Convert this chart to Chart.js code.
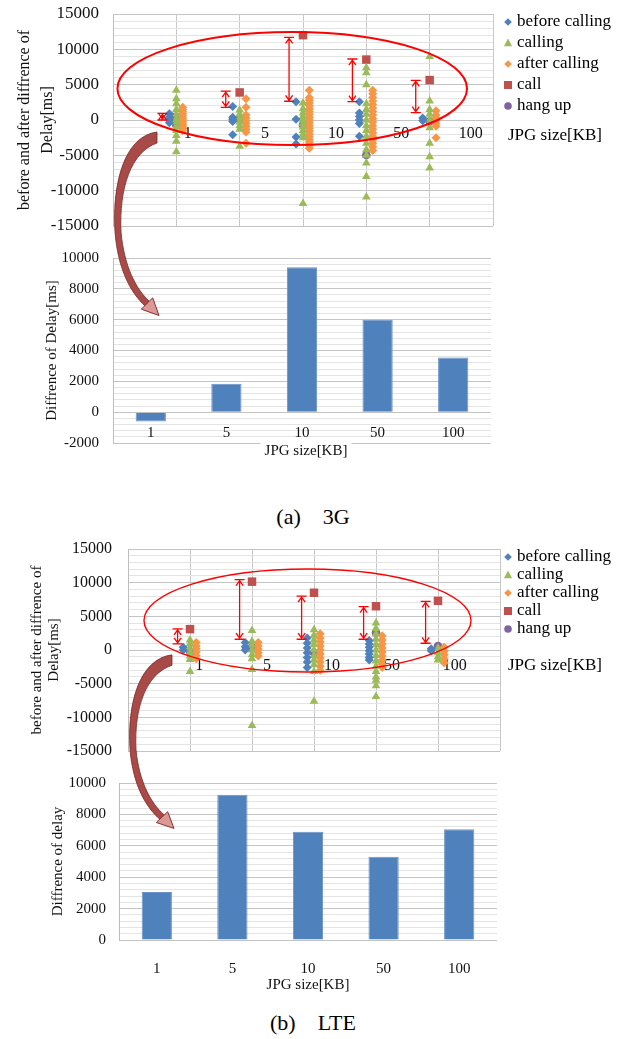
<!DOCTYPE html>
<html>
<head>
<meta charset="utf-8">
<script src="https://cdn.jsdelivr.net/npm/chart.js@4.4.0/dist/chart.umd.min.js"></script>
<style>
  html, body { margin: 0; padding: 0; background: #fff; }
  #page { position: relative; width: 626px; height: 1039px; overflow: hidden; font-family: "Liberation Serif", "Times New Roman", serif; }
  .box { position: absolute; left: 0; width: 626px; }
  .caption { position: absolute; left: 0; width: 626px; text-align: center; font-size: 22px; line-height: 24px; color: #000; white-space: pre; }
  svg { position: absolute; left: 0; top: 0; pointer-events: none; }
</style>
</head>
<body>
<div id="page">
  <div class="box" style="top:0;height:240px"><canvas id="scatter3g"></canvas></div>
  <div class="box" style="top:240px;height:225px"><canvas id="bar3g"></canvas></div>
  <div class="caption" style="top:505px">(a)    3G</div>
  <div class="box" style="top:530px;height:240px"><canvas id="scatterLte"></canvas></div>
  <div class="box" style="top:770px;height:230px"><canvas id="barLte"></canvas></div>
  <div class="caption" style="top:1011px">(b)    LTE</div>
  <svg width="626" height="1039" viewBox="0 0 626 1039">
    <defs>
      <g id="curl">
        <path d="M157,132 C125,136 112,182 115,232 C118,270 131,293 145,306 L149,301 C136,289 124,266 121,232 C119,188 131,152 157,143 Z"
              fill="#a84a47" stroke="#7a2826" stroke-width="0.8"/>
        <path d="M152.7,297.8 L159,315.5 L141.3,309.2 Z" fill="#dc9896" stroke="#8a2f2d" stroke-width="1"/>
      </g>
    </defs>
    <use href="#curl"/>
    <use href="#curl" transform="translate(15,530) scale(1,0.946)"/>
  </svg>
</div>
<script>
const sizeLabels = ['1', '5', '10', '50', '100'];
const seriesNames = ['before calling', 'calling', 'after calling', 'call', 'hang up'];

// 3G delays [ms], one inner list per JPG size
const before3G = [
  [900, 400, 0, -400],
  [1900, 400, 100, -200, -2100],
  [2600, 100, -2400, -3400],
  [2600, 1000, 500, 0, -500, -2300],
  [300, -100]
];
const calling3G = [
  [4200, 3000, 2300, 1500, 800, 200, -300, -900, -1500, -2200, -3000, -4500],
  [1400, 800, 300, -300, -800, -1300, -3700],
  [2400, 1600, 1000, 500, 0, -500, -1000, -1500, -2000, -2500, -11800],
  [7400, 6700, 5000, 2300, 1500, 800, 0, -800, -1500, -2300, -3300, -4200, -5000, -6100, -8000, -10900],
  [9000, 2700, 1500, 800, 0, -1100, -3300, -5200, -6800]
];
const after3G = [
  [1800, 1500, 1200, 900, 600, 300, 0, -300, -600, -900, -1200, -1500],
  [3000, 1800, 700, 300, -100, -500, -900, -1300, -1700, -3300],
  [4200, 3200, 2800, 2400, 2000, 1600, 1200, 800, 400, 0, -400, -800, -1200, -1600, -2000, -2400, -2800, -3200, -3600, -4000],
  [4200, 3700, 3200, 2700, 2200, 1700, 1200, 700, 200, -300, -800, -1300, -1800, -2300, -2800, -3300, -3800, -4300],
  [1300, 700, 300, -100, -500, -900, -2500]
];
const call3G = [400, 3900, 12000, 8550, 5650];
const hangup3G = [-700, 100, -700, -4950, -200];
const gapLow3G = [0, 1800, 2650, 2600, 1050];
const gapHigh3G = [950, 4100, 11700, 8630, 5600];
const diff3G = [-600, 1850, 9400, 6000, 3550];
const labelAt3G = [1.18, 2.4, 3.52, 4.55, 5.65];

// LTE delays [ms]
const beforeLte = [
  [400, 0],
  [1100, 500, 0],
  [1800, 1000, 300, -400, -1100, -1800, -2600],
  [1400, 900, 400, -100, -600, -1100, -1500],
  [200, -100]
];
const callingLte = [
  [1500, 900, 300, -300, -900, -1400, -3200],
  [2900, 1300, 700, 0, -700, -1300, -2900, -11200],
  [3000, 2200, 1500, 800, 0, -800, -1500, -2200, -3200, -7600],
  [4000, 3200, 2400, 1600, 800, 0, -800, -1600, -2400, -3200, -4000, -4500, -5300, -6900],
  [300, -400, -1000, -1500]
];
const afterLte = [
  [1100, 600, 200, -300, -800, -1300],
  [1100, 600, 100, -400, -900],
  [2400, 1800, 1200, 600, 0, -600, -1200, -1800, -2400, -3000],
  [2100, 1500, 900, 300, -300, -900, -1500, -2100, -2600],
  [400, -200, -700, -1300, -1900]
];
const callLte = [3100, 10150, 8500, 6500, 7300];
const hangupLte = [-250, 400, -400, 2550, 600];
const gapLowLte = [900, 1600, 1600, 1600, 1000];
const gapHighLte = [3150, 10450, 8000, 6430, 7230];
const diffLte = [3050, 9250, 6900, 5300, 7050];
const labelAtLte = [1.15, 2.24, 3.29, 4.26, 5.27];

const SERIF = '"Liberation Serif", "Times New Roman", serif';
Chart.defaults.font.family = SERIF;
Chart.defaults.color = '#111';

const seriesStyle = [
  { color: '#4f81bd', shape: 'rectRot', r: 4.5, legendR: 3.8, shift: -0.11 },
  { color: '#9bbb59', shape: 'triangle', r: 5, legendR: 4.5, shift: 0 },
  { color: '#f79646', shape: 'rectRot', r: 4.5, legendR: 3.8, shift: 0.1 },
  { color: '#c0504d', shape: 'rect', r: 6, legendR: 4, shift: 0 },
  { color: '#8064a2', shape: 'circle', r: 4.3, legendR: 3.8, shift: 0 }
];

function clusterPoints(lists, shift) {
  return lists.flatMap((vals, i) => vals.map(v => ({ x: i + 1 + shift, y: v })));
}
function singlePoints(vals, shift) {
  return vals.map((v, i) => ({ x: i + 1 + shift, y: v }));
}

function drawMarker(ctx, shape, x, y, r, color) {
  ctx.fillStyle = color;
  ctx.beginPath();
  if (shape === 'rectRot') {
    ctx.moveTo(x, y - r); ctx.lineTo(x + r, y); ctx.lineTo(x, y + r); ctx.lineTo(x - r, y);
  } else if (shape === 'triangle') {
    ctx.moveTo(x, y - r); ctx.lineTo(x + r * 0.9, y + r * 0.7); ctx.lineTo(x - r * 0.9, y + r * 0.7);
  } else if (shape === 'rect') {
    ctx.rect(x - r, y - r, 2 * r, 2 * r);
  } else {
    ctx.arc(x, y, r, 0, Math.PI * 2);
  }
  ctx.closePath();
  ctx.fill();
}

// legend at the right of the scatter plots
const sideLegend = {
  id: 'sideLegend',
  afterDraw(chart, args, o) {
    const ctx = chart.ctx;
    const font = o.size + 'px ' + SERIF;
    ctx.save();
    ctx.textAlign = 'left';
    ctx.textBaseline = 'middle';
    chart.data.datasets.forEach((ds, i) => {
      const y = o.top + i * o.step;
      drawMarker(ctx, ds.pointStyle, o.x, y, seriesStyle[i].legendR, ds.backgroundColor);
      ctx.font = font;
      ctx.fillStyle = '#000';
      ctx.fillText(ds.label, o.x + 9, y);
    });
    ctx.font = font;
    ctx.fillStyle = '#000';
    ctx.fillText(o.axisTitle, o.x, o.titleY);
    ctx.restore();
  }
};

// red ellipse and the double arrows showing the gap
const callouts = {
  id: 'callouts',
  afterDatasetsDraw(chart, args, o) {
    const { ctx, scales: { x, y } } = chart;
    ctx.save();
    ctx.strokeStyle = '#ff0000';
    ctx.lineWidth = 1.3;
    o.low.forEach((lo, i) => {
      const px = x.getPixelForValue(i + 1 + o.gapShift);
      const yt = y.getPixelForValue(o.high[i]);
      const yb = y.getPixelForValue(lo);
      ctx.beginPath();
      ctx.moveTo(px, yt); ctx.lineTo(px, yb);
      ctx.moveTo(px - 5, yt); ctx.lineTo(px + 5, yt);
      ctx.moveTo(px - 5, yb); ctx.lineTo(px + 5, yb);
      ctx.moveTo(px - 3.5, yt + 6); ctx.lineTo(px, yt + 1); ctx.lineTo(px + 3.5, yt + 6);
      ctx.moveTo(px - 3.5, yb - 6); ctx.lineTo(px, yb - 1); ctx.lineTo(px + 3.5, yb - 6);
      ctx.stroke();
    });
    const e = o.ellipse;
    const cx = x.getPixelForValue(e.x);
    const cy = y.getPixelForValue(e.y);
    const rx = x.getPixelForValue(e.x + e.rx) - cx;
    const ry = cy - y.getPixelForValue(e.y + e.ry);
    ctx.lineWidth = o.ellipseWidth;
    ctx.beginPath();
    ctx.ellipse(cx, cy, rx, ry, 0, 0, Math.PI * 2);
    ctx.stroke();
    ctx.restore();
  }
};

const axisCaption = {
  id: 'axisCaption',
  afterDraw(chart, args, o) {
    const ctx = chart.ctx;
    ctx.save();
    ctx.font = o.size + 'px ' + SERIF;
    ctx.textAlign = 'center';
    ctx.textBaseline = 'middle';
    const w = ctx.measureText(o.text).width;
    if (o.box) {
      ctx.fillStyle = '#fff';
      ctx.fillRect(o.x - w / 2 - 4, o.y - 9, w + 8, 18);
    }
    ctx.fillStyle = '#111';
    ctx.fillText(o.text, o.x, o.y);
    ctx.restore();
  }
};

function valueAxis(o) {
  return {
    type: 'linear',
    min: o.min,
    max: o.max,
    afterFit: s => {
      s.width = o.width;
      // keep the plot edges where the layout padding puts them
      s.paddingTop = 0;
      s.paddingBottom = 0;
    },
    border: { color: '#bdbdbd' },
    grid: {
      drawTicks: false,
      color: c => (c.tick.value % o.major === 0 ? '#c4c4c4' : '#e4e4e4')
    },
    ticks: {
      stepSize: o.step,
      autoSkip: false,
      padding: o.pad,
      color: '#111',
      font: { size: o.size },
      callback: v => (v % o.major === 0 ? String(v) : '')
    },
    title: {
      display: true,
      text: o.title,
      color: '#111',
      font: { size: o.titleSize, lineHeight: o.titleLine },
      padding: { top: o.titlePad, bottom: 0 }
    }
  };
}

function scatterChart(id, series, o) {
  const datasets = series.map((s, k) => {
    const st = seriesStyle[k];
    return {
      label: seriesNames[k],
      data: Array.isArray(s[0]) ? clusterPoints(s, st.shift) : singlePoints(s, st.shift),
      pointStyle: st.shape,
      pointRadius: st.r,
      backgroundColor: st.color,
      borderColor: st.color,
      borderWidth: 0
    };
  });
  return new Chart(document.getElementById(id), {
    type: 'scatter',
    data: { datasets },
    plugins: [callouts, sideLegend],
    options: {
      responsive: true,
      maintainAspectRatio: false,
      animation: false,
      events: [],
      layout: { padding: o.padding },
      plugins: {
        legend: { display: false },
        tooltip: { enabled: false },
        callouts: o.callouts,
        sideLegend: o.legend
      },
      scales: {
        x: {
          type: 'linear', min: 0, max: 6,
          position: { y: 0 },
          border: { display: false },
          grid: { drawTicks: false, color: '#c8c8c8' },
          ticks: { display: false, stepSize: 1 }
        },
        xl: {
          type: 'linear', min: 0, max: 6,
          position: { y: 0 },
          grid: { display: false },
          border: { display: false },
          afterBuildTicks: s => { s.ticks = o.labelAt.map(v => ({ value: v })); },
          ticks: {
            autoSkip: false, maxRotation: 0, padding: o.labelPad,
            color: '#111', font: { size: 16 },
            callback: (v, i) => sizeLabels[i]
          }
        },
        y: valueAxis(o.y)
      }
    }
  });
}

function barChart(id, values, o) {
  return new Chart(document.getElementById(id), {
    type: 'bar',
    data: {
      labels: sizeLabels,
      datasets: [{
        data: values,
        backgroundColor: '#4f81bd',
        borderColor: '#6b93c7',
        borderWidth: 1,
        barPercentage: 0.4,
        categoryPercentage: 1
      }]
    },
    plugins: [axisCaption],
    options: {
      responsive: true,
      maintainAspectRatio: false,
      animation: false,
      events: [],
      layout: { padding: o.padding },
      plugins: {
        legend: { display: false },
        tooltip: { enabled: false },
        axisCaption: o.caption
      },
      scales: {
        x: {
          position: { y: 0 },
          grid: { display: false },
          border: { display: false },
          ticks: { padding: o.labelPad, color: '#111', font: { size: 15 } }
        },
        y: valueAxis(o.y)
      }
    }
  });
}

scatterChart('scatter3g', [before3G, calling3G, after3G, call3G, hangup3G], {
  padding: { left: 0, right: 133, top: 14, bottom: 14 },
  labelAt: labelAt3G,
  labelPad: -4,
  callouts: {
    low: gapLow3G, high: gapHigh3G, gapShift: -0.22,
    ellipse: { x: 2.83, y: 4450, rx: 2.76, ry: 8000 }, ellipseWidth: 2
  },
  legend: { x: 508, top: 22, step: 21, size: 17, axisTitle: 'JPG size[KB]', titleY: 136 },
  y: {
    min: -15000, max: 15000, step: 1000, major: 5000, width: 113, pad: 14, size: 17,
    title: ['before and after diffrence of', 'Delay[ms]'], titleSize: 16, titleLine: 1.4, titlePad: 14
  }
});

barChart('bar3g', diff3G, {
  padding: { left: 0, right: 135, top: 18, bottom: 22 },
  labelPad: 4,
  caption: { text: 'JPG size[KB]', x: 306, y: 211, size: 15, box: true },
  y: {
    min: -2000, max: 10000, step: 400, major: 2000, width: 113, pad: 14, size: 15,
    title: 'Diffrence of Delay[ms]', titleSize: 15, titleLine: 1.2, titlePad: 43
  }
});

scatterChart('scatterLte', [beforeLte, callingLte, afterLte, callLte, hangupLte], {
  padding: { left: 0, right: 126, top: 19, bottom: 19 },
  labelAt: labelAtLte,
  labelPad: -2,
  callouts: {
    low: gapLowLte, high: gapHighLte, gapShift: -0.2,
    ellipse: { x: 2.895, y: 4380, rx: 2.637, ry: 7650 }, ellipseWidth: 1.4
  },
  legend: { x: 508, top: 27, step: 18, size: 17, axisTitle: 'JPG size[KB]', titleY: 136 },
  y: {
    min: -15000, max: 15000, step: 1000, major: 5000, width: 128, pad: 16, size: 16,
    title: ['before and after diffrence of', 'Delay[ms]'], titleSize: 15, titleLine: 1.15, titlePad: 28
  }
});

barChart('barLte', diffLte, {
  padding: { left: 0, right: 129, top: 13, bottom: 60 },
  labelPad: 12,
  caption: { text: 'JPG size[KB]', x: 308, y: 215, size: 15, box: false },
  y: {
    min: 0, max: 10000, step: 400, major: 2000, width: 119, pad: 13, size: 15,
    title: 'Diffrence of delay', titleSize: 15, titleLine: 1.2, titlePad: 49
  }
});
</script>
</body>
</html>
